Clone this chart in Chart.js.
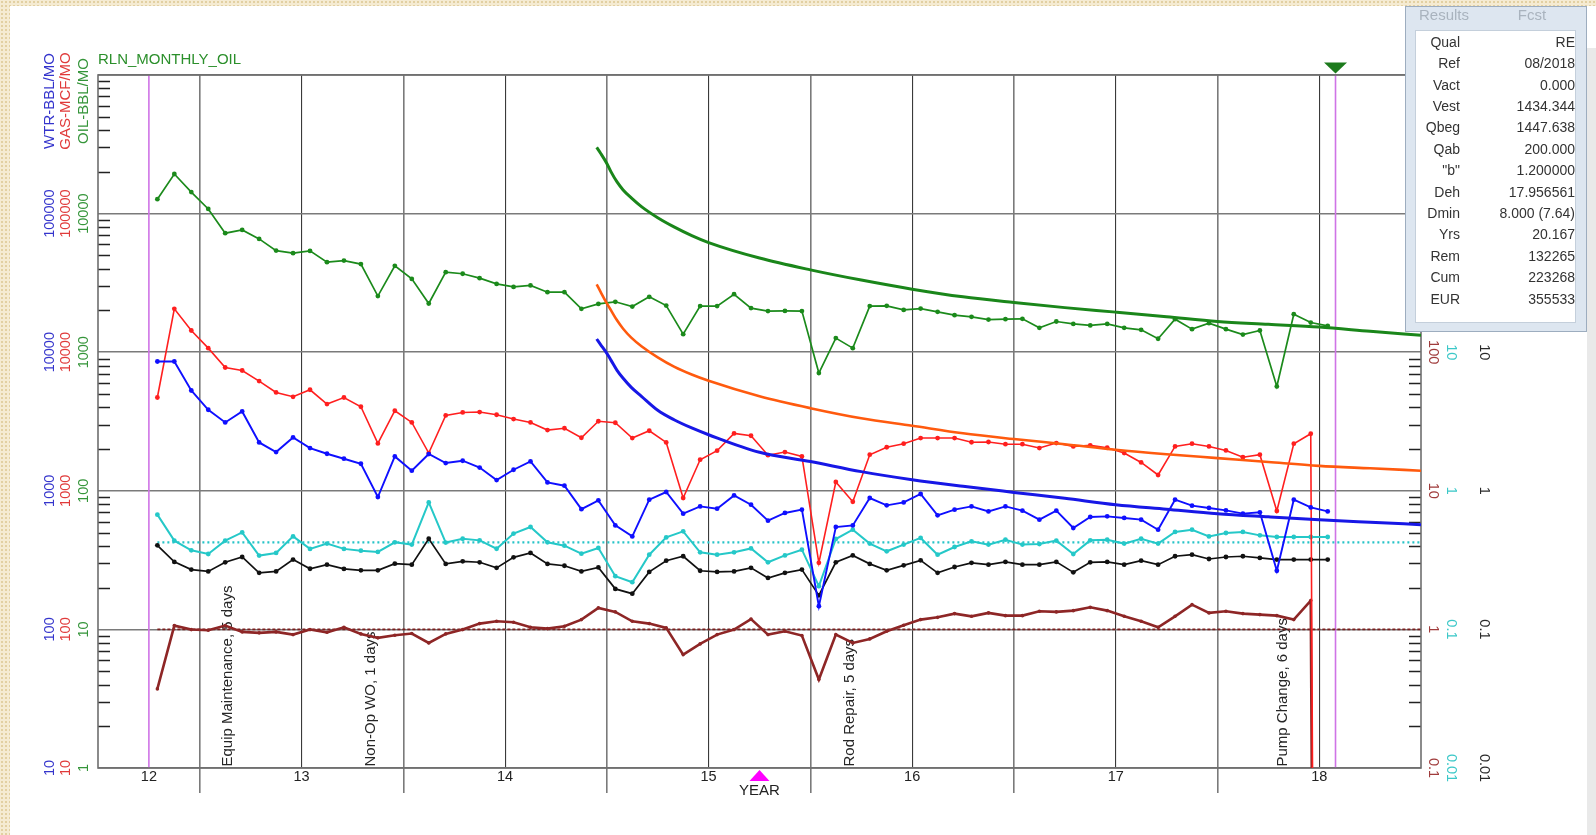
<!DOCTYPE html>
<html>
<head>
<meta charset="utf-8">
<title>RLN_MONTHLY_OIL</title>
<script src="https://cdn.jsdelivr.net/npm/chart.js@4.4.1/dist/chart.umd.min.js"></script>
<style>
  html, body { margin:0; padding:0; }
  body { width:1596px; height:835px; position:relative; overflow:hidden;
         background-color:#f5ebd2;
         background-image: radial-gradient(circle, #e2d0a2 0.8px, rgba(0,0,0,0) 1.4px);
         background-size: 4px 4px;
         font-family: "Liberation Sans", Arial, sans-serif; }
  #sheet { position:absolute; left:10px; top:6px; width:1586px; height:829px; background:#fff; }
  #strip { position:absolute; left:1587px; top:48px; width:9px; height:787px; background:#e9e9e9; }
  #chart { position:absolute; left:0; top:0; }
  #panel { position:absolute; left:1405px; top:6px; width:182px; height:326px; box-sizing:border-box;
           background:#dde6f0; border:1px solid #9dadbf; }
  #panel .hd { position:absolute; top:-1px; width:80px; text-align:center; font-size:15px; color:#a9b3be; line-height:18px; }
  #inner { position:absolute; left:9px; top:23px; width:161px; height:293px; box-sizing:border-box;
           background:#fff; border:1px solid #c4cfdb; }
  .row { position:absolute; left:0; width:100%; height:20px; line-height:20px; font-size:14px; color:#333; white-space:nowrap; }
  .row .l { position:absolute; right:115px; }
  .row .v { position:absolute; right:0; }
</style>
</head>
<body>
<div id="sheet"></div>
<div id="strip"></div>
<canvas id="chart" width="1596" height="835"></canvas>
<div id="panel">
  <div class="hd" style="left:-2px">Results</div>
  <div class="hd" style="left:86px">Fcst</div>
  <div id="inner"></div>
</div>
<script>
// ---------------- DATA ----------------
// monthly production months (Oct 2012 .. Jul 2018)
const firstMonth = '2012-10';
const monthCount = 70;
const months = (function () {
  const out = []; let [y, m] = firstMonth.split('-').map(Number);
  for (let i = 0; i < monthCount; i++) { out.push(y + '-' + String(m).padStart(2, '0')); m++; if (m > 12) { m = 1; y++; } }
  return out;
})();

// Oil, BBL/month (green)
const oilBbl = [12700,19300,14300,10800,7220,7630,6570,5410,5180,5380,
                4460,4580,4320,2540,4200,3380,2245,3780,3680,3420,
                3110,2960,3030,2710,2710,2055,2230,2310,2135,2510,
                2170,1350,2150,2150,2620,2080,1980,1985,1980,707,
                1264,1070,2150,2160,2020,2065,1955,1850,1800,1720,
                1730,1740,1500,1665,1600,1560,1600,1500,1450,1250,
                1730,1467,1620,1467,1341,1434,566,1880,1637,1550];
// Gas, MCF/month (red)
const gasMcf = [4710,20550,14340,10700,7755,7380,6188,5122,4768,5357,
                4225,4710,4039,2196,3781,3112,1873,3496,3675,3700,
                3537,3293,3112,2743,2827,2414,3176,3097,2403,2712,
                2233,887,1676,1946,2593,2496,1806,1904,1770,302,
                1157,834,1821,2062,2186,2403,2403,2403,2241,2250,
                2168,2168,2035,2211,2090,2125,2045,1873,1602,1300,
                2090,2186,2090,1956,1747,1821,715,2186,2580,0];
// Water, BBL/month (blue)
const wtrBbl = [8568,8568,5294,3843,3112,3737,2233,1904,2427,2035,
                1851,1704,1568,902,1770,1396,1842,1586,1648,1472,
                1196,1419,1629,1150,1088,737,853,563,469,863,
                980,684,772,743,926,794,609,692,731,147,
                548,563,887,785,825,948,665,731,772,710,
                772,719,619,719,539,647,654,637,619,524,
                863,781,752,722,684,699,265,863,759,710];
// Water/oil ratio (cyan)
const wor = [0.673,0.437,0.372,0.350,0.437,0.501,0.341,0.356,0.469,0.381,
             0.416,0.381,0.370,0.362,0.425,0.409,0.825,0.423,0.451,0.439,
             0.382,0.491,0.548,0.425,0.402,0.352,0.387,0.242,0.219,0.346,
             0.461,0.510,0.360,0.346,0.360,0.384,0.305,0.342,0.376,0.205,
             0.449,0.524,0.416,0.366,0.409,0.457,0.346,0.393,0.432,0.409,
             0.444,0.409,0.413,0.437,0.350,0.439,0.444,0.416,0.451,0.416,
             0.505,0.524,0.469,0.496,0.505,0.477,0.464,0.464,0.464,0.464];
// Water cut (black)
const waterCut = [0.404,0.307,0.270,0.262,0.305,0.333,0.256,0.262,0.319,0.274,
                  0.293,0.273,0.267,0.267,0.298,0.293,0.451,0.297,0.310,0.305,
                  0.278,0.331,0.356,0.297,0.288,0.262,0.280,0.196,0.181,0.260,
                  0.313,0.337,0.265,0.260,0.262,0.278,0.235,0.256,0.270,0.176,
                  0.305,0.342,0.297,0.267,0.290,0.315,0.256,0.282,0.302,0.293,
                  0.307,0.293,0.293,0.307,0.258,0.305,0.307,0.293,0.313,0.293,
                  0.337,0.346,0.322,0.333,0.337,0.328,0.319,0.319,0.319,0.319];
// Gas/oil ratio (brown)
const gor = [0.372,1.065,0.997,0.985,1.065,0.959,0.944,0.959,0.917,0.997,
             0.953,1.035,0.928,0.869,0.907,0.933,0.799,0.928,0.997,1.101,
             1.144,1.125,1.035,1.013,1.053,1.177,1.429,1.337,1.144,1.101,
             1.025,0.658,0.786,0.917,0.997,1.187,0.917,0.969,0.902,0.435,
             0.917,0.799,0.854,0.969,1.071,1.177,1.222,1.300,1.243,1.315,
             1.257,1.257,1.351,1.337,1.366,1.443,1.366,1.243,1.144,1.035,
             1.243,1.509,1.315,1.351,1.300,1.279,1.257,1.177,1.613,0];

// Forecast curves (decimal year)
const fcYears = [2014.95,2014.97,2015.00,2015.02,2015.05,2015.08,2015.12,2015.17,2015.25,2015.33,
                 2015.42,2015.50,2015.75,2016.00,2016.25,2016.50,2016.75,2017.00,2017.25,2017.50,
                 2017.75,2018.00,2018.25,2018.50,2018.75,2019.00];
const fcOil = [30010,27160,23010,20080,16920,14820,12980,11230,9341,8020,
               6907,6178,4777,3928,3315,2850,2508,2282,2097,1946,
               1803,1665,1589,1517,1415,1324];
const fcGas = [30860,27120,22520,20110,16980,14770,12740,11050,9189,7873,
               6871,6219,4809,3947,3337,2947,2598,2363,2168,1978,
               1836,1721,1613,1514,1453,1396];
const fcWtr = [12450,11310,9802,8770,7404,6483,5575,4809,3812,3255,
               2827,2538,1895,1626,1375,1202,1077,974,883,794,
               737,684,649,618,593,570];

// Reference (limit) lines
const worLimit = 0.425;
const gorLimit = 1.0;
const refEndYear = 2019.0;

// Forecast window markers (decimal years) and event notes
const forecastWindow = [2012.75, 2018.58];
const eventYears  = [2013.139, 2013.841, 2016.196, 2018.323];
const eventLabels = ['Equip Maintenance, 5 days', 'Non-Op WO, 1 days', 'Rod Repair, 5 days', 'Pump Change, 6 days'];

// Axis tick values / labels
const xRange = [2012.5, 2019.0];
const xLabelYears = [2012.75, 2013.5, 2014.5, 2015.5, 2016.5, 2017.5, 2018.5];
const xLabelText  = ['12', '13', '14', '15', '16', '17', '18'];
const xGridYears  = [2013.0, 2013.5, 2014.0, 2014.5, 2015.0, 2015.5, 2016.0, 2016.5, 2017.0, 2017.5, 2018.0, 2018.5];
const wtrTicks = [10, 100, 1000, 10000, 100000];
const wtrTickText = ['10', '100', '1000', '10000', '100000'];
const oilTicks = [1, 10, 100, 1000, 10000, 100000];
const oilTickText = ['1', '10', '100', '1000', '10000', ''];
const gorTicks = [0.1, 1, 10, 100];
const gorTickText = ['0.1', '1', '10', '100'];
const ratioTicks = [0.01, 0.1, 1, 10];
const ratioTickText = ['0.01', '0.1', '1', '10'];

// Results table
const tableLabels = ['Qual', 'Ref', 'Vact', 'Vest', 'Qbeg', 'Qab', '"b"', 'Deh', 'Dmin', 'Yrs', 'Rem', 'Cum', 'EUR'];
const tableValues = ['RE', '08/2018', '0.000', '1434.344', '1447.638', '200.000', '1.200000', '17.956561', '8.000 (7.64)', '20.167', '132265', '223268', '355533'];

// ---------------- TABLE ----------------
(function () {
  const inner = document.getElementById('inner');
  tableLabels.forEach((lab, k) => {
    const r = document.createElement('div');
    r.className = 'row';
    r.style.top = (0.7 + 21.4 * k) + 'px';
    const l = document.createElement('span'); l.className = 'l'; l.textContent = lab;
    const v = document.createElement('span'); v.className = 'v'; v.textContent = tableValues[k];
    r.appendChild(l); r.appendChild(v); inner.appendChild(r);
  });
})();

// ---------------- CHART ----------------
const FAM = '"Liberation Sans", Arial, Helvetica, sans-serif';
const TICK_SIZE = 14.5;
const LOG_FLOOR = 1e-20; // a zero month drawn as a drop to the bottom of the log axis

function monthToYear(s) { const [y, m] = s.split('-').map(Number); return y + (m - 0.5) / 12; }
function series(arr) { return arr.map((v, i) => ({ x: monthToYear(months[i]), y: v > 0 ? v : LOG_FLOOR })); }
function curve(xs, ys) { return ys.map((v, i) => ({ x: xs[i], y: v })); }

function measure(txt, size) {
  const c = document.createElement('canvas').getContext('2d');
  c.font = 'normal ' + size + 'px ' + FAM;
  return c.measureText(txt).width;
}

function logAxis(o) {
  const widest = Math.max.apply(null, o.labels.map(s => measure(s, TICK_SIZE)));
  const width = o.box[1] - o.box[0];
  const pad = o.pos === 'left' ? (o.box[1] - o.center - widest / 2) : (o.center - o.box[0] - widest / 2);
  const rot = o.pos === 'left' ? 90 : -90;
  return {
    type: 'logarithmic', position: o.pos, weight: o.weight, min: o.min, max: o.max,
    afterBuildTicks: s => { s.ticks = o.vals.map(v => ({ value: v })); },
    afterFit: s => { s.width = width; },
    ticks: {
      autoSkip: false, minRotation: rot, maxRotation: rot, crossAlign: 'center',
      padding: pad, color: o.color, font: { family: FAM, size: TICK_SIZE },
      callback: (v, i) => o.labels[i]
    },
    grid: o.grid || { display: false, drawTicks: false },
    border: { display: false }
  };
}

function dataSet(label, arr, axis, color, width, radius, order) {
  return {
    label, data: series(arr), yAxisID: axis, borderColor: color, backgroundColor: color,
    borderWidth: width, pointRadius: c => (c.raw && c.raw.y > 1e-10 ? radius : 0),
    pointBorderWidth: 0, pointBackgroundColor: color, tension: 0, order
  };
}

const datasets = [
  { label: 'WOR limit', data: [{ x: monthToYear(months[0]), y: worLimit }, { x: refEndYear, y: worLimit }],
    yAxisID: 'yC', borderColor: '#27c4c8', borderWidth: 2.2, borderDash: [2, 3], pointRadius: 0, order: 20 },
  { label: 'GOR limit', data: [{ x: monthToYear(months[0]), y: gorLimit }, { x: refEndYear, y: gorLimit }],
    yAxisID: 'yB', borderColor: '#7a1d1d', borderWidth: 1.6, borderDash: [3, 2], pointRadius: 0, order: 20 },
  dataSet('Gas/Oil ratio', gor, 'yB', '#8e2626', 2.6, 1.8, 9),
  dataSet('Water cut', waterCut, 'yK', '#111111', 1.7, 2.4, 8),
  dataSet('Water/Oil ratio', wor, 'yC', '#25c8c8', 2, 2.4, 7),
  dataSet('Gas', gasMcf, 'yG', '#ff1f1f', 1.6, 2.4, 6),
  dataSet('Water', wtrBbl, 'yW', '#0f0fff', 1.9, 2.4, 5),
  dataSet('Oil', oilBbl, 'yO', '#1b8a1b', 1.7, 2.4, 4),
  { label: 'Gas forecast', data: curve(fcYears, fcGas), yAxisID: 'yG', borderColor: '#ff5a0e', borderWidth: 2.6,
    pointRadius: 0, cubicInterpolationMode: 'monotone', order: 2 },
  { label: 'Water forecast', data: curve(fcYears, fcWtr), yAxisID: 'yW', borderColor: '#1717e6', borderWidth: 3,
    pointRadius: 0, cubicInterpolationMode: 'monotone', order: 1 },
  { label: 'Oil forecast', data: curve(fcYears, fcOil), yAxisID: 'yO', borderColor: '#1a861a', borderWidth: 3,
    pointRadius: 0, cubicInterpolationMode: 'monotone', order: 0 }
];

const decor = {
  id: 'decor',
  beforeDatasetsDraw(chart) {
    const { ctx, chartArea: a, scales } = chart;
    ctx.save();
    // inward minor ticks
    ctx.strokeStyle = '#222'; ctx.lineWidth = 1.3; ctx.beginPath();
    for (let d = 0; d < 5; d++) for (let k = 2; k <= 9; k++) {
      const py = Math.round(scales.yO.getPixelForValue(k * Math.pow(10, d))) + 0.5;
      ctx.moveTo(a.left, py); ctx.lineTo(a.left + 12, py);
    }
    for (let d = -1; d < 2; d++) for (let k = 2; k <= 9; k++) {
      const py = Math.round(scales.yB.getPixelForValue(k * Math.pow(10, d))) + 0.5;
      ctx.moveTo(a.right - 12, py); ctx.lineTo(a.right, py);
    }
    ctx.stroke();
    // forecast window lines
    ctx.strokeStyle = '#cf74e6'; ctx.lineWidth = 1.6;
    forecastWindow.forEach(t => {
      const px = scales.x.getPixelForValue(t);
      ctx.beginPath(); ctx.moveTo(px, a.top); ctx.lineTo(px, a.bottom); ctx.stroke();
    });
    // event notes
    ctx.fillStyle = '#262626'; ctx.font = '15px ' + FAM; ctx.textAlign = 'left'; ctx.textBaseline = 'middle';
    eventYears.forEach((t, i) => {
      const px = scales.x.getPixelForValue(t);
      ctx.save(); ctx.translate(px, a.bottom - 1.5); ctx.rotate(-Math.PI / 2);
      ctx.fillText(eventLabels[i], 0, 0); ctx.restore();
    });
    // frame
    ctx.strokeStyle = '#6e6e6e'; ctx.lineWidth = 1.6;
    ctx.strokeRect(a.left, a.top, a.right - a.left, a.bottom - a.top);
    ctx.restore();
  },
  afterDraw(chart) {
    const { ctx, chartArea: a, scales } = chart;
    ctx.save();
    // title
    ctx.font = '15px ' + FAM; ctx.textBaseline = 'middle'; ctx.textAlign = 'left';
    ctx.fillStyle = '#2b8f2b'; ctx.fillText('RLN_MONTHLY_OIL', a.left, 60);
    // rotated unit titles
    [['WTR-BBL/MO', '#3434cc', 49.7], ['GAS-MCF/MO', '#e03a3a', 65.8], ['OIL-BBL/MO', '#35953a', 83.5]].forEach(t => {
      ctx.save(); ctx.translate(t[2], 101); ctx.rotate(-Math.PI / 2);
      ctx.textAlign = 'center'; ctx.fillStyle = t[1]; ctx.fillText(t[0], 0, 0); ctx.restore();
    });
    // green marker at forecast start
    const gx = scales.x.getPixelForValue(forecastWindow[1]);
    ctx.fillStyle = '#1c7a1c'; ctx.beginPath();
    ctx.moveTo(gx - 11.5, a.top - 12.5); ctx.lineTo(gx + 11.5, a.top - 12.5); ctx.lineTo(gx, a.top - 1.5); ctx.closePath(); ctx.fill();
    // magenta marker on time axis
    const mx = (a.left + a.right) / 2;
    ctx.fillStyle = '#ff00ff'; ctx.beginPath();
    ctx.moveTo(mx - 10, a.bottom + 13); ctx.lineTo(mx + 10, a.bottom + 13); ctx.lineTo(mx, a.bottom + 2); ctx.closePath(); ctx.fill();
    ctx.restore();
  }
};

new Chart(document.getElementById('chart').getContext('2d'), {
  type: 'line',
  data: { datasets },
  options: {
    responsive: false, animation: false, devicePixelRatio: 1,
    layout: { padding: { left: 30, right: 96, top: 75, bottom: 32 } },
    plugins: { legend: { display: false }, tooltip: { enabled: false } },
    scales: {
      x: {
        type: 'linear', position: 'bottom', weight: 1, min: xRange[0], max: xRange[1],
        afterBuildTicks: s => { s.ticks = xLabelYears.map(v => ({ value: v })); },
        afterFit: s => { s.height = 35; },
        ticks: { autoSkip: false, maxRotation: 0, padding: 0, color: '#222', font: { family: FAM, size: TICK_SIZE },
                 callback: (v, i) => xLabelText[i] },
        grid: { display: false, drawTicks: false },
        border: { display: false },
        title: { display: true, text: 'YEAR', color: '#222', font: { family: FAM, size: 15 }, padding: { top: 0, bottom: 3 } }
      },
      xg: {
        type: 'linear', position: 'bottom', weight: 0, min: xRange[0], max: xRange[1],
        afterBuildTicks: s => { s.ticks = xGridYears.map(v => ({ value: v })); },
        afterFit: s => { s.height = 0; },
        ticks: { display: false },
        grid: {
          drawOnChartArea: true, drawTicks: true, tickLength: 25,
          color: c => (c.tick && Number.isInteger(c.tick.value) ? '#7a7a7a' : '#3a3a3a'),
          lineWidth: c => (c.tick && Number.isInteger(c.tick.value) ? 1.6 : 1.1),
          tickColor: c => (c.tick && Number.isInteger(c.tick.value) ? '#7a7a7a' : 'rgba(0,0,0,0)'),
          tickWidth: 1.6
        },
        border: { display: false }
      },
      yW: logAxis({ pos: 'left', weight: 3, min: 10, max: 1e6, vals: wtrTicks, labels: wtrTickText, color: '#3535cc', box: [30, 57], center: 49.7 }),
      yG: logAxis({ pos: 'left', weight: 2, min: 10, max: 1e6, vals: wtrTicks, labels: wtrTickText, color: '#e03a3a', box: [57, 75], center: 65.8 }),
      yO: logAxis({ pos: 'left', weight: 1, min: 1, max: 1e5, vals: oilTicks, labels: oilTickText, color: '#35953a', box: [75, 98], center: 83.5,
                    grid: { display: true, drawOnChartArea: true, drawTicks: false, color: '#7a7a7a', lineWidth: 1.6 } }),
      yB: logAxis({ pos: 'right', weight: 1, min: 0.1, max: 1e4, vals: gorTicks, labels: gorTickText, color: '#a03c3c', box: [1421, 1442], center: 1433 }),
      yC: logAxis({ pos: 'right', weight: 2, min: 0.01, max: 1e3, vals: ratioTicks, labels: ratioTickText, color: '#3cc8c8', box: [1442, 1466], center: 1451 }),
      yK: logAxis({ pos: 'right', weight: 3, min: 0.01, max: 1e3, vals: ratioTicks, labels: ratioTickText, color: '#2a2a2a', box: [1466, 1500], center: 1484 })
    }
  },
  plugins: [decor]
});
</script>
</body>
</html>
